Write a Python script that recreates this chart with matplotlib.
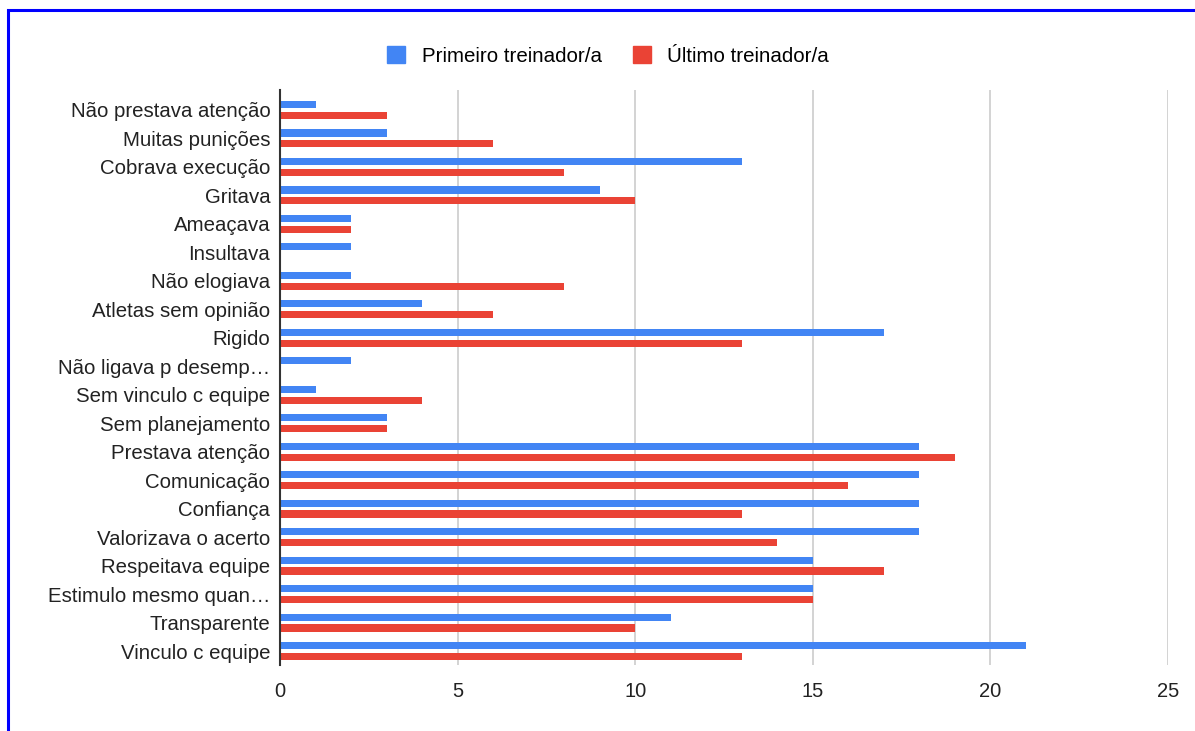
import matplotlib
matplotlib.use('Agg')
import matplotlib.pyplot as plt
from matplotlib.patches import Rectangle, Patch
import numpy as np

plt.rcParams['font.family'] = ['Liberation Sans', 'DejaVu Sans']

categories = [
    'Não prestava atenção', 'Muitas punições', 'Cobrava execução', 'Gritava',
    'Ameaçava', 'Insultava', 'Não elogiava', 'Atletas sem opinião', 'Rigido',
    'Não ligava p desemp…', 'Sem vinculo c equipe', 'Sem planejamento',
    'Prestava atenção', 'Comunicação', 'Confiança', 'Valorizava o acerto',
    'Respeitava equipe', 'Estimulo mesmo quan…', 'Transparente', 'Vinculo c equipe',
]
primeiro = [1, 3, 13, 9, 2, 2, 2, 4, 17, 2, 1, 3, 18, 18, 18, 18, 15, 15, 11, 21]
ultimo = [3, 6, 8, 10, 2, 0, 8, 6, 13, 0, 4, 3, 19, 16, 13, 14, 17, 15, 10, 13]
series_names = ['Primeiro treinador/a', 'Último treinador/a']
x_ticks = [0, 5, 10, 15, 20, 25]

BLUE = '#4285F4'
RED = '#EA4335'

fig = plt.figure(figsize=(11.95, 7.31), dpi=100)
ax = fig.add_axes([280 / 1195, 1 - 665 / 731, 888 / 1195, 575 / 731])

y = np.arange(len(categories))
h = 0.25
off = 0.19
ax.barh(y - off, primeiro, height=h, color=BLUE, zorder=3)
ax.barh(y + off, ultimo, height=h, color=RED, zorder=3)

ax.set_xlim(0, 25)
ax.set_ylim(19.49, -0.70)
ax.set_yticks(y)
ax.set_yticklabels(categories, fontsize=14.7, color='#222222')
ax.set_xticks(x_ticks)
ax.set_xticklabels([str(t) for t in x_ticks], fontsize=14.5, color='#222222')
ax.tick_params(axis='both', length=0)
ax.tick_params(axis='y', pad=7)
ax.tick_params(axis='x', pad=12)

ax.grid(axis='x', color='#cccccc', linewidth=1.2, zorder=0)
for side in ['top', 'right', 'bottom']:
    ax.spines[side].set_visible(False)
ax.spines['left'].set_color('#333333')
ax.spines['left'].set_linewidth(1.5)
ax.spines['left'].set_zorder(4)

handles = [Patch(facecolor=BLUE, edgecolor=BLUE), Patch(facecolor=RED, edgecolor=RED)]
fig.legend(handles, series_names, loc='center', bbox_to_anchor=(608 / 1195, 1 - 56 / 731),
           ncol=2, frameon=False, fontsize=14.8, handlelength=0.9, handleheight=0.9,
           columnspacing=1.5, handletextpad=0.8)

# blue frame around the chart (cut on the right and bottom)
fig.patches.append(Rectangle((8 / 1195, -0.05), 1.1, 1 - 10 / 731 + 0.05,
                             transform=fig.transFigure, fill=False,
                             edgecolor='#0000ff', linewidth=2.2, zorder=10))

fig.savefig('out.png', dpi=100)
